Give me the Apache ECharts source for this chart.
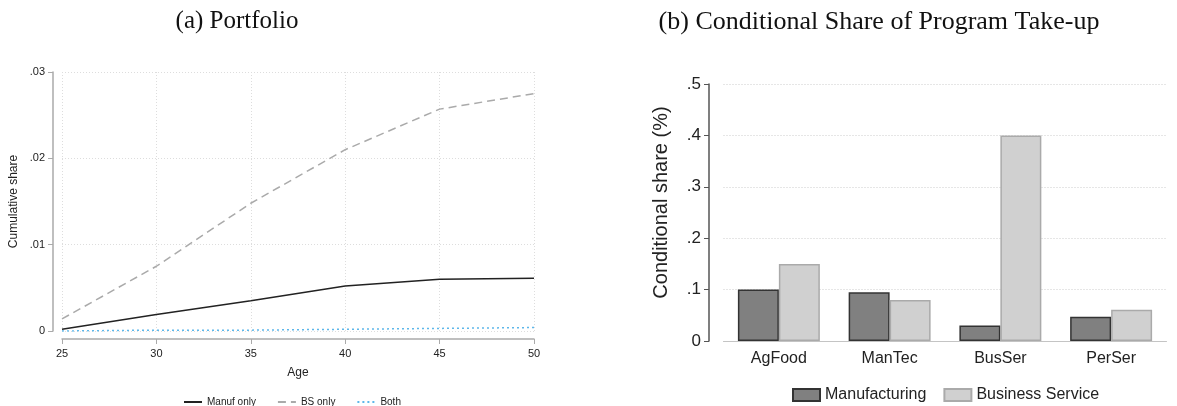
<!DOCTYPE html>
<html><head><meta charset="utf-8">
<script src="https://cdn.jsdelivr.net/npm/echarts@6/dist/echarts.min.js"></script>
<style>html,body{margin:0;padding:0;background:#fff}#c{width:1177px;height:406px}</style>
</head><body><div id="c"></div>
<script>
// Panel (a)
var ages = [25, 30, 35, 40, 45, 50];
var manufOnly = [0.0002, 0.0019, 0.0035, 0.0052, 0.0060, 0.0061];
var bsOnly = [0.0014, 0.0075, 0.0148, 0.0210, 0.0257, 0.0275];
var both = [0.0000, 0.0001, 0.0001, 0.0002, 0.0003, 0.0004];
// Panel (b)
var sectors = ['AgFood', 'ManTec', 'BusSer', 'PerSer'];
var manufacturing = [0.100, 0.095, 0.030, 0.047];
var businessService = [0.150, 0.080, 0.400, 0.061];

function pairs(xs, ys){ return xs.map(function(x,i){return [x, ys[i]];}); }
function fmt(v){ if (v === 0) return '0'; var s = String(Math.round(v*1000)/1000); return s.replace(/^0/, ''); }

var chart = echarts.init(document.getElementById('c'));
var txt = '#222';
chart.setOption({
  animation: false,
  backgroundColor: '#fff',
  textStyle: {fontFamily: 'Liberation Sans, Arial, sans-serif'},
  title: [
    {text: '(a) Portfolio', left: 232, top: 4, textAlign: 'center',
     textStyle: {fontFamily: 'Liberation Serif, serif', fontWeight: 'normal', fontSize: 25, color: '#111'}},
    {text: '(b) Conditional Share of Program Take-up', left: 874, top: 4, textAlign: 'center',
     textStyle: {fontFamily: 'Liberation Serif, serif', fontWeight: 'normal', fontSize: 26, color: '#111'}}
  ],
  grid: [
    {left: 62, width: 472, top: 72, height: 259},
    {left: 723.5, width: 443, top: 84, height: 257}
  ],
  xAxis: [
    {type: 'value', gridIndex: 0, min: 25, max: 50, interval: 5, offset: 8,
     name: 'Age', nameLocation: 'middle', nameGap: 28,
     nameTextStyle: {fontSize: 12, color: txt},
     axisLine: {onZero: false, lineStyle: {color: '#aaa', width: 1.5}},
     axisTick: {show: true, length: 5, lineStyle: {color: '#aaa'}},
     axisLabel: {fontSize: 11, color: txt, margin: 9},
     splitLine: {show: true, lineStyle: {color: '#ddd', type: [1, 2]}}},
    {type: 'category', gridIndex: 1, data: sectors,
     axisLine: {show: true, lineStyle: {color: '#c4c4c4', width: 1}}, axisTick: {show: false},
     axisLabel: {fontSize: 16, color: txt, margin: 10}}
  ],
  yAxis: [
    {type: 'value', gridIndex: 0, min: 0, max: 0.03, interval: 0.01, offset: 9,
     name: 'Cumulative share', nameLocation: 'middle', nameGap: 33,
     nameTextStyle: {fontSize: 12, color: txt},
     axisLine: {show: true, onZero: false, lineStyle: {color: '#aaa', width: 1.5}},
     axisTick: {show: true, length: 5, lineStyle: {color: '#aaa'}},
     axisLabel: {fontSize: 11, color: txt, margin: 8, formatter: fmt},
     splitLine: {show: true, lineStyle: {color: '#ddd', type: [1, 2]}}},
    {type: 'value', gridIndex: 1, min: 0, max: 0.5, interval: 0.1, offset: 14.5,
     name: 'Conditional share (%)', nameLocation: 'middle', nameGap: 38,
     nameTextStyle: {fontSize: 20, color: txt, padding: [0, 0, 0, 20]},
     axisLine: {show: true, lineStyle: {color: '#555', width: 1.5}},
     axisTick: {show: true, length: 5, lineStyle: {color: '#555'}},
     axisLabel: {fontSize: 17, color: txt, margin: 8, formatter: fmt},
     splitLine: {show: true, lineStyle: {color: '#ccc', type: [1, 2]}}}
  ],
  legend: [
    {data: ['Manuf only', 'BS only', 'Both'], left: 178, top: 392,
     itemWidth: 18, itemHeight: 8, itemGap: 21, itemStyle: {opacity: 0},
     textStyle: {fontSize: 10, color: txt}},
    {data: ['Manufacturing', 'Business Service'], left: 787, top: 382, icon: 'rect',
     itemWidth: 27, itemHeight: 12, itemGap: 17,
     textStyle: {fontSize: 16, color: txt}}
  ],
  series: [
    {name: 'Manuf only', type: 'line', xAxisIndex: 0, yAxisIndex: 0, data: pairs(ages, manufOnly),
     symbol: 'none', color: '#222', lineStyle: {color: '#222', width: 1.5}},
    {name: 'BS only', type: 'line', xAxisIndex: 0, yAxisIndex: 0, data: pairs(ages, bsOnly),
     symbol: 'none', color: '#aaa', lineStyle: {color: '#aaa', width: 1.5, type: [8, 5]}},
    {name: 'Both', type: 'line', xAxisIndex: 0, yAxisIndex: 0, data: pairs(ages, both),
     symbol: 'none', color: '#5db7ea', lineStyle: {color: '#5db7ea', width: 1.5, type: [2, 3]}},
    {name: 'Manufacturing', type: 'bar', xAxisIndex: 1, yAxisIndex: 1, data: manufacturing,
     barGap: '0%', barCategoryGap: '26%',
     itemStyle: {color: '#808080', borderColor: '#333', borderWidth: 1.5}},
    {name: 'Business Service', type: 'bar', xAxisIndex: 1, yAxisIndex: 1, data: businessService,
     barGap: '0%', barCategoryGap: '26%',
     itemStyle: {color: '#d0d0d0', borderColor: '#aaa', borderWidth: 1.5}}
  ]
});
</script></body></html>
